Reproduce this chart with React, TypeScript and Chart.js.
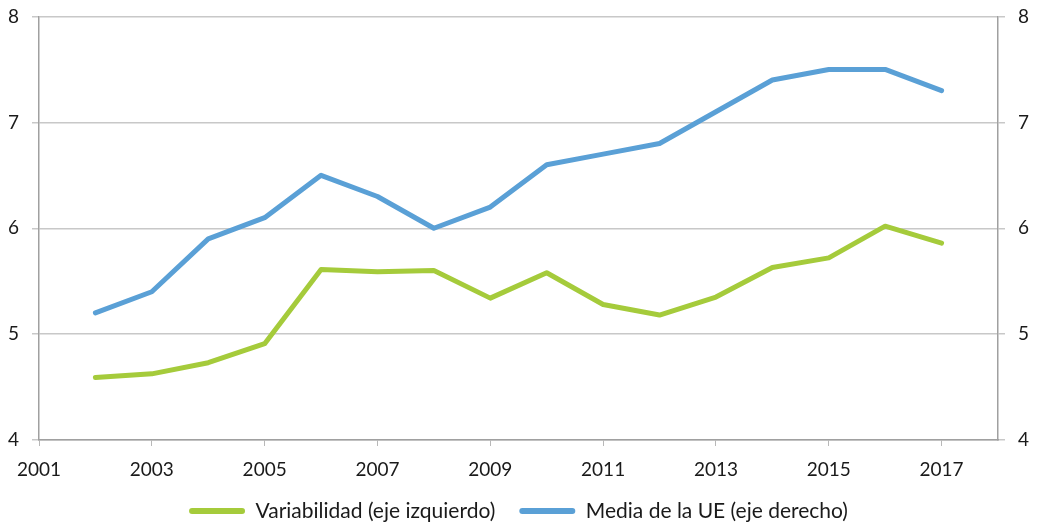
import React, { useEffect, useRef } from "react";
import { Chart, registerables } from "chart.js";

Chart.register(...registerables);

const years = [2002, 2003, 2004, 2005, 2006, 2007, 2008, 2009, 2010, 2011, 2012, 2013, 2014, 2015, 2016, 2017];
const variabilidad = [4.59, 4.625, 4.73, 4.91, 5.61, 5.59, 5.6, 5.34, 5.58, 5.28, 5.18, 5.35, 5.63, 5.72, 6.02, 5.86];
const mediaUE = [5.2, 5.4, 5.9, 6.1, 6.5, 6.3, 6.0, 6.2, 6.6, 6.7, 6.8, 7.1, 7.4, 7.5, 7.5, 7.3];
const xTickYears = [2001, 2003, 2005, 2007, 2009, 2011, 2013, 2015, 2017];
const seriesLabels = ["Variabilidad (eje izquierdo)", "Media de la UE (eje derecho)"];

const GREEN = "#a5cb3b";
const BLUE = "#5aa0d6";
const FONT = "Lato";
const TICK_SIZE = 19;

export default function App() {
  const ref = useRef<HTMLCanvasElement | null>(null);
  useEffect(() => {
    document.body.style.margin = "0";
    const ctx = ref.current!;
    const chart = new Chart(ctx, {
      type: "line",
      data: {
        datasets: [
          {
            label: seriesLabels[0],
            data: years.map((y, i) => ({ x: y, y: variabilidad[i] })),
            borderColor: GREEN,
            backgroundColor: GREEN,
            borderWidth: 5,
            pointRadius: 0,
            yAxisID: "y",
            borderCapStyle: "round",
            borderJoinStyle: "round",
          },
          {
            label: seriesLabels[1],
            data: years.map((y, i) => ({ x: y, y: mediaUE[i] })),
            borderColor: BLUE,
            backgroundColor: BLUE,
            borderWidth: 5,
            pointRadius: 0,
            yAxisID: "y2",
            borderCapStyle: "round",
            borderJoinStyle: "round",
          },
        ],
      },
      options: {
        animation: false,
        responsive: false,
        layout: { padding: { top: 16.5, left: 0, right: 0, bottom: -8.5 } },
        plugins: {
          tooltip: { enabled: false },
          legend: {
            position: "bottom",
            labels: {
              font: { family: FONT, size: 21 },
              color: "#1a1a1a",
              boxWidth: 56,
              boxHeight: 6,
              padding: 24,
              generateLabels: (c: any) =>
                c.data.datasets.map((d: any, i: number) => ({
                  text: d.label,
                  fillStyle: d.borderColor,
                  strokeStyle: d.borderColor,
                  lineWidth: 0,
                  borderRadius: 3,
                  hidden: false,
                  datasetIndex: i,
                  fontColor: "#1a1a1a",
                })),
            },
          },
        },
        scales: {
          x: {
            type: "linear",
            min: 2001,
            max: 2018,
            afterBuildTicks: (s: any) => {
              s.ticks = xTickYears.map((v) => ({ value: v }));
            },
            afterFit: (s: any) => {
              s.height = 36.5;
              s.paddingLeft = 0;
              s.paddingRight = 0;
            },
            grid: { drawOnChartArea: false, drawTicks: true, tickLength: 6, color: "#b8b8b8" },
            border: { color: "#a0a0a0", width: 1.5 },
            ticks: {
              font: { family: FONT, size: TICK_SIZE },
              color: "#1a1a1a",
              padding: 12,
              maxRotation: 0,
              autoSkip: false,
              callback: (v: any) => String(v),
            },
          },
          y: {
            position: "left",
            min: 4,
            max: 8,
            afterFit: (s: any) => {
              s.width = 39;
              s.paddingTop = 0;
              s.paddingBottom = 0;
            },
            grid: { color: "#c8c8c8", lineWidth: 1.5, tickLength: 7 },
            border: { color: "#a0a0a0", width: 1.5 },
            ticks: { stepSize: 1, font: { family: FONT, size: TICK_SIZE }, color: "#1a1a1a", padding: 13 },
          },
          y2: {
            position: "right",
            min: 4,
            max: 8,
            afterFit: (s: any) => {
              s.width = 39;
              s.paddingTop = 0;
              s.paddingBottom = 0;
            },
            grid: { drawOnChartArea: false, color: "#c8c8c8", lineWidth: 1.5, tickLength: 7 },
            border: { color: "#a0a0a0", width: 1.5 },
            ticks: { stepSize: 1, font: { family: FONT, size: TICK_SIZE }, color: "#1a1a1a", padding: 13 },
          },
        },
      },
    });
    return () => chart.destroy();
  }, []);
  return <canvas ref={ref} width={1037} height={523} style={{ display: "block" }} />;
}
